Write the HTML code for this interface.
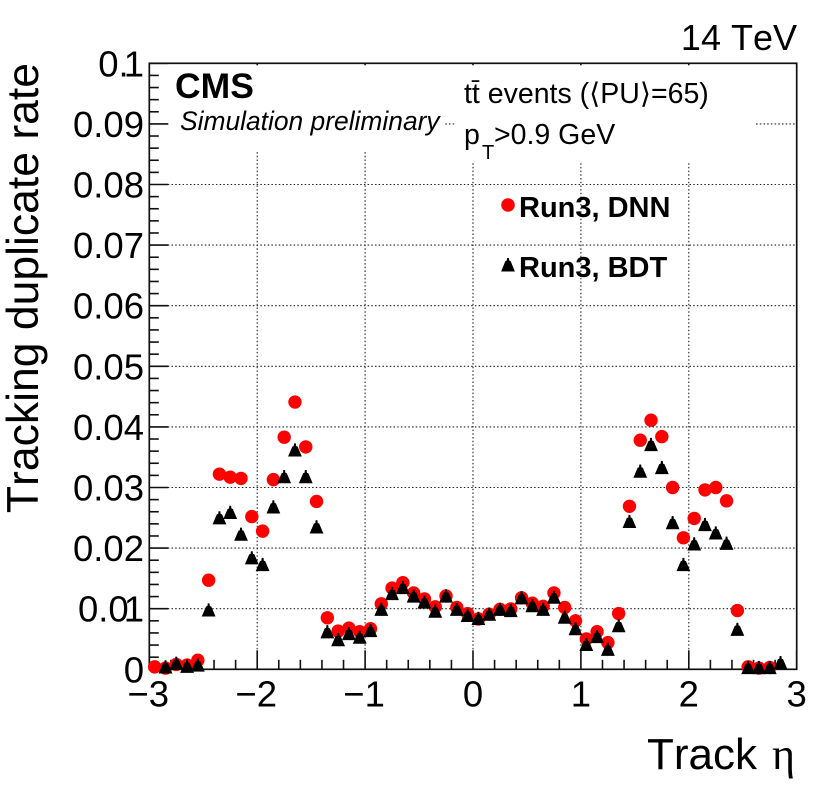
<!DOCTYPE html>
<html lang="en">
<head>
<meta charset="utf-8">
<title>Tracking duplicate rate vs track eta</title>
<style>
html,body{margin:0;padding:0;background:#fff;width:830px;height:797px;overflow:hidden}
svg{display:block}
text{font-family:"Liberation Sans","DejaVu Sans",sans-serif;fill:#000;font-kerning:none}
</style>
</head>
<body>
<svg id="chart" xmlns="http://www.w3.org/2000/svg" width="830" height="797" viewBox="0 0 830 797">
  <g id="grid"></g>
  <rect x="151" y="65" width="294" height="86" fill="#fff"/>
  <rect x="455" y="65" width="301" height="96" fill="#fff"/>
  <g id="ticks"></g>
  <rect x="149.3" y="63.3" width="647.4" height="606" fill="none" stroke="#111" stroke-width="1.7"/>
  <g id="tick-labels"></g>
  <g id="dnn-series"></g>
  <g id="bdt-series"></g>

  <text transform="translate(38,63) rotate(-90)" text-anchor="end" font-size="44.5">Tracking duplicate rate</text>
  <text x="647" y="769" font-size="44">Track <tspan x="772" style="font-family:'Liberation Serif',serif">η</tspan></text>
  <text x="797" y="50" text-anchor="end" font-size="36">14 TeV</text>
  <text x="175" y="98" font-size="35.5" font-weight="bold">CMS</text>
  <text x="180" y="130" font-size="26.4" font-style="italic">Simulation preliminary</text>
  <text x="464" y="103" font-size="28.5">tt̄ events (⟨PU⟩=65)</text>
  <text x="464" y="144" font-size="28.5">p<tspan x="482" y="159" font-size="20">T</tspan><tspan x="494" y="144">&gt;0.9 GeV</tspan></text>

  <g>
    <circle cx="508" cy="205" r="6.8" fill="#ff0000"/>
    <text x="519" y="217" font-size="29" font-weight="bold">Run3, DNN</text>
    <polygon points="507.1,258 508.9,258 509.2,260.5 510.6,261 514.9,271.5 501.1,271.5 505.4,261 506.8,260.5" fill="#000"/>
    <text x="519" y="277" font-size="29" font-weight="bold">Run3, BDT</text>
  </g>
</svg>
<script>
var etaBins = [-2.95,-2.85,-2.75,-2.65,-2.55,-2.45,-2.35,-2.25,-2.15,-2.05,-1.95,-1.85,-1.75,-1.65,-1.55,-1.45,-1.35,-1.25,-1.15,-1.05,-0.95,-0.85,-0.75,-0.65,-0.55,-0.45,-0.35,-0.25,-0.15,-0.05,0.05,0.15,0.25,0.35,0.45,0.55,0.65,0.75,0.85,0.95,1.05,1.15,1.25,1.35,1.45,1.55,1.65,1.75,1.85,1.95,2.05,2.15,2.25,2.35,2.45,2.55,2.65,2.75,2.85];
var dnnRate = [0.0004,0.0002,0.0008,0.0007,0.0015,0.0147,0.0322,0.0317,0.0315,0.0252,0.0228,0.0313,0.0383,0.0441,0.0367,0.0277,0.0085,0.0063,0.0068,0.0062,0.0067,0.0108,0.0134,0.0143,0.0126,0.0116,0.0103,0.0121,0.0102,0.0092,0.0083,0.0091,0.0099,0.00995,0.0118,0.0109,0.0104,0.0126,0.0102,0.008,0.005,0.0062,0.0044,0.0092,0.0269,0.0378,0.0411,0.0384,0.03,0.0217,0.0249,0.0296,0.03,0.0278,0.0097,0.0004,0.0002,0.0003,null];
var bdtRate = [null,0.0003,0.0009,0.0004,0.0006,0.0097,0.0249,0.0258,0.0222,0.0183,0.0172,0.0267,0.0317,0.0361,0.0317,0.0234,0.0061,0.0048,0.0058,0.0052,0.0063,0.0098,0.0124,0.0134,0.012,0.011,0.0095,0.012,0.0098,0.0088,0.0083,0.009,0.0098,0.0096,0.0117,0.0104,0.0098,0.0118,0.0085,0.0066,0.004,0.0053,0.0032,0.0071,0.0243,0.0326,0.037,0.0332,0.0241,0.0172,0.0206,0.0238,0.0224,0.0207,0.0065,0.0002,0.0002,0.0002,0.001];
var xTickValues = [-3,-2,-1,0,1,2,3];
var xTickLabels = ["\u22123","\u22122","\u22121","0","1","2","3"];
var yTickValues = [0,0.01,0.02,0.03,0.04,0.05,0.06,0.07,0.08,0.09,0.1];
var yTickLabels = ["0","0.01","0.02","0.03","0.04","0.05","0.06","0.07","0.08","0.09","0.1"];

var NS = "http://www.w3.org/2000/svg";
var LEFT = 149.3, RIGHT = 796.7, TOP = 63.3, BOTTOM = 669.3;
function xScale(v){ return LEFT + (v + 3) / 6 * (RIGHT - LEFT); }
function yScale(v){ return BOTTOM - v / 0.1 * (BOTTOM - TOP); }
function make(tag, attrs, parent){
  var el = document.createElementNS(NS, tag);
  for (var k in attrs) { el.setAttribute(k, attrs[k]); }
  parent.appendChild(el);
  return el;
}
var gridG = document.getElementById("grid");
var tickG = document.getElementById("ticks");
var labelG = document.getElementById("tick-labels");
var dnnG = document.getElementById("dnn-series");
var bdtG = document.getElementById("bdt-series");
var gridStyle = {stroke:"#222","stroke-width":1.1,"stroke-dasharray":"1.5 2.2",fill:"none"};
var tickStyle = {stroke:"#111","stroke-width":1.6};

function withStyle(base, extra){
  var o = {};
  for (var k in base) { o[k] = base[k]; }
  for (var j in extra) { o[j] = extra[j]; }
  return o;
}

xTickValues.forEach(function(v, i){
  var x = xScale(v);
  if (i > 0 && i < xTickValues.length - 1) {
    var g = make("line", withStyle(gridStyle, {x1:x, x2:x, y1:TOP, y2:BOTTOM}), gridG);
    
    
  }
  var t = make("line", withStyle(tickStyle, {x1:x, x2:x, y1:BOTTOM, y2:BOTTOM - 19}), tickG);
  
  
  var tt = make("line", withStyle(tickStyle, {x1:x, x2:x, y1:TOP, y2:TOP + 2}), tickG);
  
  
  var l = make("text", {x:(v < 0 ? x - 1 : x), y:706.5, "text-anchor":"middle", "font-size":36.5}, labelG);
  
  
  l.textContent = xTickLabels[i];
  if (i < xTickValues.length - 1) {
    for (var m = 1; m < 5; m++) {
      var xm = xScale(v + m * 0.2);
      var mt = make("line", withStyle(tickStyle, {x1:xm, x2:xm, y1:BOTTOM, y2:BOTTOM - 9.5}), tickG);
      
      
    }
  }
});

yTickValues.forEach(function(v, i){
  var y = yScale(v);
  if (i > 0 && i < yTickValues.length - 1) {
    var g = make("line", withStyle(gridStyle, {x1:LEFT, x2:RIGHT, y1:y, y2:y}), gridG);
    
    
  }
  var t = make("line", withStyle(tickStyle, {x1:LEFT, x2:LEFT + 19, y1:y, y2:y}), tickG);
  
  
  var l = make("text", {x:144, y:y + 13, "text-anchor":"end", "font-size":36.5}, labelG);
  
  
  var label = yTickLabels[i];
  if (label.charAt(label.length - 1) === "1") {
    l.textContent = label.slice(0, -1);
    var last = make("tspan", {dx:-5}, l);
    last.textContent = "1";
  } else {
    l.textContent = label;
  }
  if (i < yTickValues.length - 1) {
    for (var m = 1; m < 5; m++) {
      var ym = yScale(v + m * 0.002);
      var mt = make("line", withStyle(tickStyle, {x1:LEFT, x2:LEFT + 9.5, y1:ym, y2:ym}), tickG);
      
      
    }
  }
});

etaBins.forEach(function(eta, i){
  if (dnnRate[i] === null) { return; }
  var c = make("circle", {cx:xScale(eta), cy:yScale(dnnRate[i]), r:6.7, fill:"#ff0000"}, dnnG);
  
  
});
function trianglePoints(x, y){
  var offs = [[-0.9,-7.2],[0.9,-7.2],[1.2,-4.5],[2.6,-4],[6.9,6],[-6.9,6],[-2.6,-4],[-1.2,-4.5]];
  return offs.map(function(o){ return (x + o[0]) + "," + (y + o[1]); }).join(" ");
}
etaBins.forEach(function(eta, i){
  if (bdtRate[i] === null) { return; }
  var p = make("polygon", {points:trianglePoints(xScale(eta), yScale(bdtRate[i])), fill:"#000"}, bdtG);
  
  
});
</script>
</body>
</html>
